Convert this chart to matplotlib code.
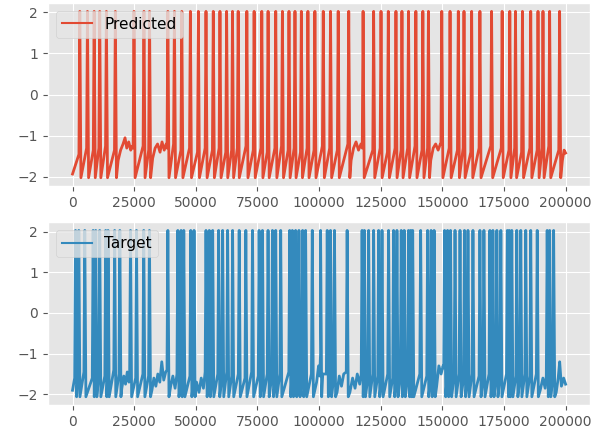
import numpy as np
import matplotlib
matplotlib.use("Agg")
import matplotlib.pyplot as plt

plt.style.use("ggplot")

X_END = 200000

# Predicted trace: spike times, level just before each spike
pred_spike_x = [2950, 6060, 8770, 11030, 13740, 17370, 24930, 28970, 31230, 38670,
                41330, 44320, 47800, 51030, 54140, 57090, 59800, 62510, 64890, 67190,
                70710, 73660, 76770, 79320, 82430, 85130, 87800, 90230, 92810, 95480,
                98310, 101700, 104650, 107760, 112040, 117860, 122140, 125130, 128080, 131190,
                133620, 136280, 139270, 142100, 144360, 149780, 153130, 156480, 158790, 161900,
                165250, 169980, 174260, 177370, 179680, 182500, 185860, 188810, 190830, 193530,
                197580]
pred_pre = [-1.45, -1.3, -1.35, -1.3, -1.25, -1.35, -1.3, -1.25, -1.35, -1.3,
            -1.2, -1.35, -1.3, -1.4, -1.3, -1.35, -1.3, -1.4, -1.35, -1.3,
            -1.25, -1.35, -1.3, -1.4, -1.3, -1.25, -1.35, -1.3, -1.4, -1.3,
            -1.35, -1.25, -1.3, -1.35, -1.2, -1.3, -1.35, -1.3, -1.4, -1.3,
            -1.35, -1.3, -1.25, -1.35, -1.3, -1.2, -1.3, -1.35, -1.3, -1.4,
            -1.3, -1.25, -1.3, -1.35, -1.3, -1.4, -1.3, -1.35, -1.3, -1.25,
            -1.35]
pred_peak = 2.02
pred_trough = -2.02
pred_start, pred_end = -1.93, -1.42
# flat noisy stretches between spikes
pred_extra_x = [18500, 19500, 20500, 21300, 22000, 22800, 23600, 24300,
                32500, 33500, 34500, 35500, 36300, 37200, 38000,
                113000, 114000, 115000, 116000, 117000,
                145300, 146300, 147300, 148300, 149200,
                198700, 199400]
pred_extra_y = [-1.6, -1.35, -1.2, -1.05, -1.3, -1.15, -1.35, -1.25,
                -1.55, -1.3, -1.2, -1.4, -1.15, -1.35, -1.2,
                -1.6, -1.3, -1.15, -1.35, -1.2,
                -1.6, -1.3, -1.2, -1.35, -1.2,
                -1.6, -1.35]

# Target trace
targ_spike_x = [1210, 2550, 4970, 8360, 9410, 11030, 13450, 14420, 17090, 19190,
                23520, 25940, 28890, 31190, 38670, 42710, 44040, 45130, 47960, 49290,
                54140, 55470, 56850, 59270, 60890, 62910, 64930, 67600, 70300, 73010,
                75680, 77050, 79310, 81090, 82420, 84440, 88080, 89170, 90500, 91840,
                93330, 94550, 97250, 100610, 103310, 104650, 106260, 111390, 117450, 118380,
                120120, 122140, 124160, 125530, 128200, 130220, 131590, 133330, 134540, 136280,
                137170, 137980, 141210, 144040, 145450, 146670, 150910, 152130, 153330, 155150,
                157170, 158990, 160400, 162420, 165250, 166870, 169290, 170510, 172120, 173740,
                176370, 177180, 178180, 180200, 181820, 183840, 185860, 188490, 192530, 193540,
                195150]
targ_pre = [-1.6, -1.5, -1.45, -1.6, -1.7, -1.5, -1.55, -1.75, -1.4, -1.5,
            -1.45, -1.6, -1.5, -1.55, -1.4, -1.5, -1.8, -1.7, -1.55, -1.75,
            -1.45, -1.7, -1.6, -1.5, -1.6, -1.45, -1.55, -1.5, -1.6, -1.45,
            -1.55, -1.7, -1.5, -1.6, -1.75, -1.5, -1.45, -1.7, -1.6, -1.75,
            -1.6, -1.7, -1.5, -1.55, -1.5, -1.7, -1.6, -1.45, -1.5, -1.75,
            -1.6, -1.5, -1.55, -1.7, -1.5, -1.6, -1.75, -1.55, -1.7, -1.6,
            -1.75, -1.8, -1.5, -1.55, -1.7, -1.6, -1.35, -1.7, -1.75, -1.55,
            -1.5, -1.6, -1.7, -1.5, -1.55, -1.65, -1.5, -1.7, -1.6, -1.55,
            -1.5, -1.75, -1.7, -1.55, -1.6, -1.5, -1.55, -1.5, -1.55, -1.75,
            -1.6]
targ_peak = 2.03
targ_trough = -2.06
targ_start, targ_end = -1.9, -1.75
targ_extra_x = [20000, 20800, 21500, 22200, 22900,
                32200, 33000, 33800, 34600, 35400, 36200, 37000, 37800,
                39800, 40700, 41600,
                50300, 51300, 52200, 53100,
                99000, 99800, 100600, 101500,
                107300, 108200, 109100, 110000, 112500, 113600, 114600, 115500, 116500,
                147700, 148600, 149500, 150300,
                189700, 190800, 191700,
                196200, 197000, 197600, 198300, 199200]
targ_extra_y = [-1.85, -1.55, -1.75, -1.45, -1.7,
                -1.9, -1.6, -1.8, -1.5, -1.7, -1.2, -1.65, -1.45,
                -1.8, -1.55, -1.85,
                -1.7, -1.95, -1.6, -1.85,
                -1.7, -1.3, -1.0, -1.5,
                -1.95, -1.55, -1.8, -1.5, -1.95, -1.6, -1.85, -1.5, -1.75,
                -1.8, -1.3, -1.5, -1.3,
                -1.9, -1.6, -1.85,
                -1.95, -1.6, -1.2, -1.8, -1.6]

RISE = 350
FALL = 450


def build_trace(spike_x, pre, peak, trough, extra_x, extra_y, start, end):
    xs = [0.0]
    ys = [start]
    for t, p in zip(spike_x, pre):
        xs += [t - RISE, t, t + FALL]
        ys += [p, peak, trough]
    xs += list(extra_x) + [X_END]
    ys += list(extra_y) + [end]
    xs = np.array(xs, dtype=float)
    ys = np.array(ys, dtype=float)
    order = np.argsort(xs, kind="stable")
    return xs[order], ys[order]


px, py = build_trace(pred_spike_x, pred_pre, pred_peak, pred_trough,
                     pred_extra_x, pred_extra_y, pred_start, pred_end)
tx, ty = build_trace(targ_spike_x, targ_pre, targ_peak, targ_trough,
                     targ_extra_x, targ_extra_y, targ_start, targ_end)

fig, axes = plt.subplots(2, 1, figsize=(6.06, 4.37), dpi=100)
fig.subplots_adjust(left=0.079, right=0.974, top=0.993, bottom=0.073, hspace=0.197)

axes[0].plot(px, py, color="#E24A33", lw=2.0, label="Predicted")
axes[1].plot(tx, ty, color="#348ABD", lw=2.0, label="Target")

for ax in axes:
    ax.set_yticks([-2, -1, 0, 1, 2])
    ax.set_xticks([0, 25000, 50000, 75000, 100000, 125000, 150000, 175000, 200000])
    leg = ax.legend(loc="upper left", fontsize=11)
    for line in leg.get_lines():
        line.set_linewidth(1.5)

plt.savefig("out.png", dpi=100)
plt.close()
